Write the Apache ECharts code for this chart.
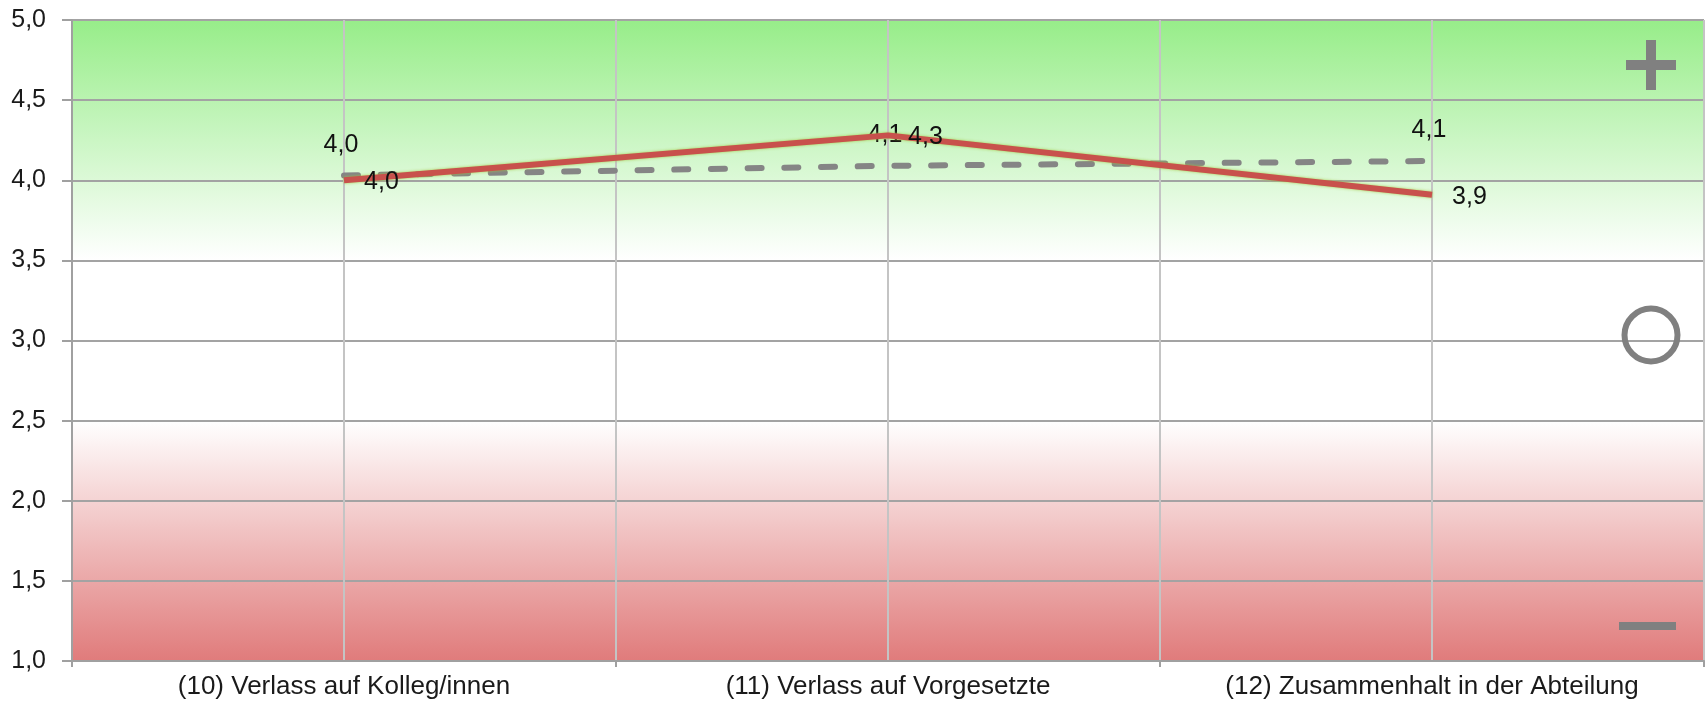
<!DOCTYPE html>
<html><head><meta charset="utf-8">
<script src="https://cdn.jsdelivr.net/npm/echarts@6/dist/echarts.min.js"></script>
<style>html,body{margin:0;padding:0;background:#fff}#c{width:1708px;height:709px}</style>
</head><body><div id="c"></div>
<script>
// ---- data ----
const categories = ['(10) Verlass auf Kolleg/innen', '(11) Verlass auf Vorgesetzte', '(12) Zusammenhalt in der Abteilung'];
const valuesCurrent = [4.0, 4.28, 3.91];     // red solid line
const valuesReference = [4.03, 4.09, 4.12];  // grey dashed line
const yMin = 1.0, yMax = 5.0, yStep = 0.5;
const goodFrom = 3.5;   // green band starts fading to white here
const badTo = 2.5;      // red band starts here

const fmt = v => Number(v).toFixed(1).replace('.', ',');
const FONT = 'Liberation Sans';
const stopGood = (yMax - goodFrom) / (yMax - yMin);
const stopBad = (yMax - badTo) / (yMax - yMin);

const chart = echarts.init(document.getElementById('c'), null, {renderer: 'canvas'});
chart.setOption({
  animation: false,
  backgroundColor: '#ffffff',
  grid: {
    left: 72, right: 4, top: 20, bottom: 48,
    show: true, borderWidth: 0,
    backgroundColor: new echarts.graphic.LinearGradient(0, 0, 0, 1, [
      {offset: 0, color: '#97ED89'},
      {offset: stopGood, color: '#ffffff'},
      {offset: stopBad, color: '#ffffff'},
      {offset: 1, color: '#E07B7B'}
    ])
  },
  xAxis: [{
    type: 'category',
    data: categories,
    boundaryGap: true,
    axisLine: {show: true, lineStyle: {color: '#a0a0a0', width: 2}},
    axisTick: {show: true, length: 6, lineStyle: {color: '#a0a0a0', width: 2}},
    axisLabel: {fontFamily: FONT, fontSize: 26, color: '#1a1a1a', margin: 13},
    splitLine: {show: false}
  }, {
    type: 'value',
    min: 0, max: categories.length * 2, interval: 1,
    position: 'top',
    axisLine: {show: false}, axisTick: {show: false}, axisLabel: {show: false},
    splitLine: {show: true, lineStyle: {color: '#c4c4c4', width: 2}}
  }],
  yAxis: {
    type: 'value',
    min: yMin, max: yMax, interval: yStep,
    axisLine: {show: true, lineStyle: {color: '#a0a0a0', width: 2}},
    axisTick: {show: true, length: 10, lineStyle: {color: '#a0a0a0', width: 2}},
    axisLabel: {fontFamily: FONT, fontSize: 25, color: '#1a1a1a', margin: 26, formatter: fmt},
    splitLine: {show: true, lineStyle: {color: '#a3a3a3', width: 2}}
  },
  series: [{
    type: 'line',
    xAxisIndex: 0,
    data: valuesReference,
    symbol: 'circle', symbolSize: 0.1,
    itemStyle: {color: 'rgba(0,0,0,0)', borderWidth: 0},
    lineStyle: {color: '#858585', width: 6, type: [14, 22.7], cap: 'round'},
    label: {show: true, position: 'top', distance: 18, offset: [-3, 0],
      fontFamily: FONT, fontSize: 25, color: '#111', formatter: p => fmt(p.value)},
    z: 3
  }, {
    type: 'line',
    xAxisIndex: 0,
    data: valuesCurrent,
    symbol: 'circle', symbolSize: 0.1,
    itemStyle: {color: 'rgba(0,0,0,0)', borderWidth: 0},
    lineStyle: {color: '#C8514C', width: 6, shadowColor: 'rgba(160,200,60,0.9)', shadowBlur: 3},
    label: {show: true, position: 'right', distance: 20, offset: [0, 2],
      fontFamily: FONT, fontSize: 25, color: '#111', formatter: p => fmt(p.value)},
    z: 4
  }],
  graphic: [
    {type: 'rect', shape: {x: 1626, y: 60, width: 50, height: 10}, style: {fill: '#808080'}, z: 10},
    {type: 'rect', shape: {x: 1646, y: 40, width: 10, height: 50}, style: {fill: '#808080'}, z: 10},
    {type: 'circle', shape: {cx: 1651, cy: 335, r: 26.5}, style: {fill: 'none', stroke: '#808080', lineWidth: 6}, z: 10},
    {type: 'rect', shape: {x: 1619, y: 622, width: 57, height: 8}, style: {fill: '#808080'}, z: 10}
  ]
});
</script>
</body></html>
